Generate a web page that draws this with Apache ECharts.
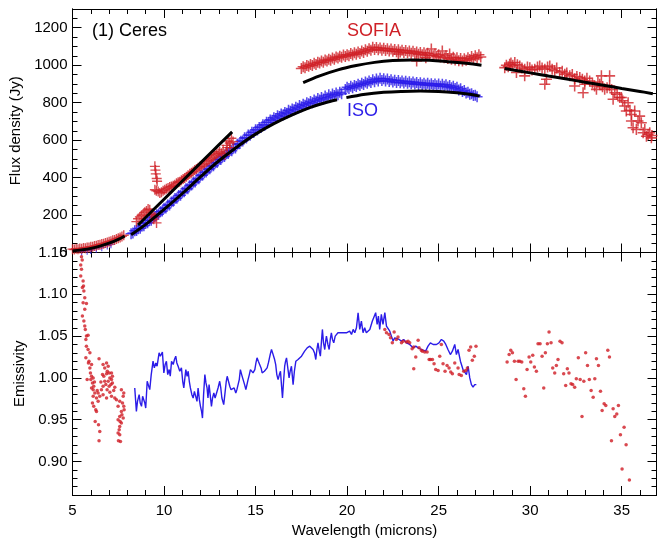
<!DOCTYPE html>
<html><head><meta charset="utf-8">
<script src="https://cdn.jsdelivr.net/npm/echarts@6/dist/echarts.min.js"></script>
<style>html,body{margin:0;padding:0;background:#fff}#c{width:658px;height:541px}</style>
</head><body><div id="c"></div>
<script>
// ---------- tick values ----------
const xMajor = [5,10,15,20,25,30,35];
const xMinor = [6,7,8,9,11,12,13,14,16,17,18,19,21,22,23,24,26,27,28,29,31,32,33,34,36];
const fluxMajor = [0,200,400,600,800,1000,1200];
const fluxMinor = [50,100,150,250,300,350,450,500,550,650,700,750,850,900,950,1050,1100,1150,1250];
const emisMajor = [0.90,0.95,1.00,1.05,1.10,1.15];
const emisMinor = [0.86,0.87,0.88,0.89,0.91,0.92,0.93,0.94,0.96,0.97,0.98,0.99,1.01,1.02,1.03,1.04,1.06,1.07,1.08,1.09,1.11,1.12,1.13,1.14];

// ---------- flux: SOFIA (red +) ----------
const sofiaFlux1 = [[5.0,18],[5.1,16],[5.2,20],[5.3,17],[5.4,22],[5.5,20],[5.6,24],[5.7,23],[5.8,27],[5.9,27],[6.0,31],[6.1,31],[6.2,35],[6.3,36],[6.4,40],[6.5,41],[6.6,45],[6.7,47],[6.8,51],[6.9,53],[7.0,58],[7.1,60],[7.2,65],[7.3,67],[7.4,72],[7.5,76],[7.6,80],[7.7,86],[7.8,92]];
const sofiaFlux2 = [[8.49,165],[8.58,180],[8.68,190],[8.77,198],[8.86,205],[8.95,215],[9.04,222],[9.13,232],[9.22,228],[9.31,200],[9.40,205],[9.44,178],[9.50,190],[9.59,158],[9.50,460],[9.53,440],[9.55,420],[9.60,395],[9.62,380],[9.50,335],[9.58,330],[9.68,326],[9.77,318],[9.86,322],[9.95,330],[10.04,335],[10.13,340],[10.22,345],[10.31,350],[10.40,352],[10.50,356],[10.59,362],[10.68,370],[10.77,375],[10.86,378],[10.95,386],[11.04,392],[11.13,398],[11.22,405],[11.31,412],[11.41,420],[11.50,426],[11.59,432],[11.68,440],[11.77,446],[11.86,452],[11.95,458],[12.04,462],[12.13,470],[12.22,476],[12.32,484],[12.41,490],[12.50,495],[12.59,503],[12.68,510],[12.77,518],[12.86,524],[12.95,530],[13.04,538],[13.14,530],[13.23,548],[13.32,520],[13.41,572],[13.50,595],[13.59,585],[13.68,610],[13.77,592],[13.45,560],[13.60,560]];
const sofiaFlux3 = [[17.5,982],[17.6,992],[17.7,986],[17.8,998],[17.9,994],[18.0,1004],[18.1,998],[18.2,1010],[18.3,1004],[18.4,1016],[18.5,1012],[18.6,1022],[18.7,1016],[18.8,1028],[18.9,1022],[19.0,1032],[19.1,1026],[19.2,1038],[19.3,1032],[19.4,1044],[19.5,1038],[19.6,1048],[19.7,1042],[19.8,1054],[19.9,1046],[20.0,1056],[20.1,1050],[20.2,1062],[20.3,1055],[20.4,1066],[20.5,1058],[20.6,1070],[20.7,1062],[20.8,1076],[20.9,1068],[21.0,1082],[21.1,1074],[21.2,1088],[21.3,1080],[21.4,1096],[21.5,1084],[21.6,1094],[21.7,1082],[21.8,1092],[21.9,1080],[22.0,1090],[22.1,1078],[22.2,1088],[22.3,1076],[22.4,1086],[22.5,1074],[22.6,1084],[22.7,1072],[22.8,1082],[22.9,1070],[23.0,1080],[23.1,1068],[23.2,1078],[23.3,1066],[23.4,1076],[23.5,1064],[23.6,1074],[23.7,1062],[23.8,1070],[23.9,1058],[24.0,1068],[24.1,1056],[24.2,1066],[24.3,1054],[24.4,1064],[24.5,1052],[24.6,1086],[24.7,1050],[24.8,1060],[24.9,1046],[25.0,1056],[25.1,1044],[25.2,1076],[25.3,1040],[25.4,1050],[25.5,1036],[25.6,1060],[25.7,1032],[25.8,1042],[25.9,1028],[26.0,1040],[26.1,1024],[26.2,1036],[26.3,1022],[26.4,1034],[26.5,1026],[26.6,1040],[26.7,1030],[26.8,1046],[26.9,1034],[27.0,1050],[27.1,1040],[27.2,1056],[27.3,1044],[23.8,1023],[24.3,1040],[22.8,1060]];
const sofiaFlux4 = [[28.61,987],[28.7,1000],[28.8,992],[28.88,1005],[28.95,1012],[29.05,1000],[29.16,1014],[29.25,961],[29.3,1002],[29.43,996],[29.55,985],[29.7,979],[29.7,943],[29.85,990],[29.98,987],[30.1,975],[30.25,979],[30.4,990],[30.52,996],[30.65,985],[30.8,979],[30.8,898],[30.89,925],[30.95,990],[31.07,996],[31.2,978],[31.34,970],[31.45,985],[31.61,961],[31.75,968],[31.89,952],[32.0,958],[32.16,943],[32.3,950],[32.43,928],[32.43,889],[32.55,940],[32.71,934],[32.85,925],[32.89,853],[32.98,916],[32.98,898],[33.1,930],[33.25,916],[33.4,905],[33.52,889],[33.62,871],[33.7,910],[33.8,898],[33.89,943],[33.95,885],[34.07,871],[34.2,880],[34.34,889],[34.34,943],[34.45,870],[34.53,818],[34.62,853],[34.75,845],[34.89,827],[34.98,827],[35.05,810],[35.16,782],[35.25,755],[35.35,800],[35.45,760],[35.53,737],[35.53,702],[35.62,666],[35.71,755],[35.80,657],[35.89,702],[35.98,728],[36.07,693],[36.17,639],[36.26,657],[36.35,621],[36.44,630],[36.53,639],[36.62,612],[36.65,625]];

// ---------- flux: ISO (blue +) ----------
const isoFlux1 = [[5.5,6],[5.8,10],[6.0,14],[6.3,20],[6.6,28],[6.9,38],[7.1,44]];
const isoFlux2 = [[8.2,100],[8.3,104],[8.4,116],[8.5,118],[8.6,127],[8.7,130],[8.8,141],[8.9,143],[9.0,156],[9.1,159],[9.2,171],[9.3,172],[9.4,186],[9.5,192],[9.6,202],[9.7,204],[9.8,218],[9.9,221],[10.0,236],[10.1,238],[10.2,253],[10.3,254],[10.4,270],[10.5,273],[10.6,288],[10.7,290],[10.8,304],[10.9,306],[11.0,322],[11.1,324],[11.2,340],[11.3,341],[11.4,357],[11.5,360],[11.6,375],[11.7,377],[11.8,392],[11.9,394],[12.0,411],[12.1,413],[12.2,427],[12.3,430],[12.4,445],[12.5,447],[12.6,462],[12.7,463],[12.8,479],[12.9,480],[13.0,496],[13.1,497],[13.2,511],[13.3,512],[13.4,528],[13.5,528],[13.6,544],[13.7,543],[13.8,559],[13.9,558],[14.0,578],[14.1,580],[14.2,594],[14.3,595],[14.4,612],[14.5,611],[14.6,627],[14.7,626],[14.8,642],[14.9,641],[15.0,655],[15.1,654],[15.2,668],[15.3,668],[15.4,682],[15.5,680],[15.6,695],[15.7,694],[15.8,708],[15.9,706],[16.0,720],[16.1,716],[16.2,730],[16.3,726],[16.4,740],[16.5,734],[16.6,748],[16.7,744],[16.8,760],[16.9,754],[17.0,766],[17.1,762],[17.2,775],[17.3,770],[17.4,785],[17.5,778],[17.6,792],[17.7,786],[17.8,800],[17.9,794],[18.0,806],[18.1,800],[18.2,814],[18.3,808],[18.4,822],[18.5,814],[18.6,828],[18.7,820],[18.8,836],[18.9,826],[19.0,842],[19.1,832],[19.2,846],[19.3,838],[19.4,852],[19.5,842],[19.6,856],[19.7,848]];
const isoFlux3 = [[19.9,870],[20.0,882],[20.1,876],[20.2,888],[20.3,880],[20.4,892],[20.5,886],[20.6,898],[20.7,892],[20.8,904],[20.9,897],[21.0,910],[21.1,903],[21.2,916],[21.3,908],[21.4,922],[21.5,912],[21.6,926],[21.7,915],[21.8,930],[21.9,918],[22.0,928],[22.1,916],[22.2,926],[22.3,913],[22.4,922],[22.5,910],[22.6,920],[22.7,908],[22.8,918],[22.9,906],[23.0,916],[23.1,905],[23.2,914],[23.3,903],[23.4,912],[23.5,901],[23.6,910],[23.7,899],[23.8,908],[23.9,897],[24.0,906],[24.1,896],[24.2,904],[24.3,894],[24.4,903],[24.5,893],[24.6,901],[24.7,891],[24.8,900],[24.9,890],[25.0,899],[25.1,888],[25.2,898],[25.3,887],[25.4,896],[25.5,884],[25.6,892],[25.7,880],[25.8,887],[25.9,875],[26.0,882],[26.1,868],[26.2,874],[26.3,860],[26.4,865],[26.5,852],[26.6,856],[26.7,845],[26.8,848],[26.9,838],[27.0,840],[27.1,832]];

// ---------- flux: thermal models (black) ----------
const model1 = [[5.0,8],[5.5,14],[6.0,22],[6.5,34],[7.0,50],[7.5,70],[7.85,88]];
const modelSofia2 = [[8.58,147],[9.5,236],[10.5,333],[11.5,430],[12.5,527],[13.72,644]];
const modelIso2 = [[8.2,95],[9,150],[10,230],[11,315],[12,405],[13,490],[14,565],[15,632],[16,688],[17,735],[18,775],[19,805],[19.45,815]];
const modelIso3 = [[19.96,827],[21,845],[22,855],[23,860],[24,862],[25,860],[26,853],[26.7,845],[27.24,835]];
const modelSofia3 = [[17.6,907],[18.5,943],[19.5,975],[20.5,998],[21.5,1015],[22.5,1025],[23.5,1028],[24.5,1026],[25.5,1019],[26.5,1010],[27.34,1000]];
const modelSofia4 = [[28.6,982],[30,959],[31,942],[32,926],[33,909],[34,893],[35,876],[36,860],[36.7,848]];

// ---------- emissivity ----------
const sofiaEmis1 = [[5.49,1.145],[5.53,1.141],[5.45,1.135],[5.49,1.130],[5.45,1.122],[5.58,1.116],[5.54,1.108],[5.62,1.104],[5.67,1.096],[5.58,1.090],[5.76,1.089],[5.67,1.082],[5.54,1.074],[5.62,1.068],[5.67,1.062],[5.76,1.050],[5.85,1.051],[5.73,1.046],[5.76,1.038],[5.85,1.034],[5.73,1.024],[5.95,1.030],[5.87,1.018],[6.04,1.016],[5.95,1.012],[5.98,1.006],[6.04,1.002],[6.13,1.000],[5.80,0.998],[6.09,0.994],[6.16,0.990],[6.04,0.988],[6.13,0.986],[6.22,0.982],[6.13,0.978],[6.31,0.976],[6.09,0.970],[6.16,0.966],[6.27,0.962],[6.40,0.972],[6.31,0.960],[6.24,0.948],[6.42,0.944],[6.49,0.936],[6.45,0.925],[6.45,1.023],[6.67,1.016],[6.86,1.018],[6.76,1.012],[6.95,1.014],[6.64,1.004],[6.71,1.002],[6.86,1.005],[7.00,1.006],[7.13,1.006],[7.18,1.002],[7.04,1.000],[6.76,0.996],[6.95,0.996],[7.13,0.998],[6.67,0.990],[6.58,0.986],[6.82,0.992],[7.00,0.990],[7.18,0.994],[7.31,0.989],[6.89,0.986],[7.04,0.983],[6.67,0.980],[7.13,0.978],[6.86,0.976],[7.31,0.976],[6.49,0.978],[6.40,0.982],[7.40,0.974],[7.67,0.986],[7.77,0.978],[7.80,0.982],[7.58,0.972],[7.73,0.970],[7.49,0.966],[7.67,0.960],[7.58,0.954],[7.77,0.952],[7.49,0.950],[7.67,0.946],[7.58,0.942],[7.55,0.938],[7.49,0.934],[7.58,0.932],[7.62,0.924],[7.51,0.925],[7.80,0.966],[7.82,0.962],[5.60,1.110],[5.70,1.058],[5.90,1.020],[6.00,0.998],[6.20,0.995],[6.35,0.985],[6.55,0.995],[6.90,1.008],[7.10,0.992],[7.25,0.985],[7.60,0.948],[7.70,0.956]];
const sofiaEmis2 = [[22.06,1.058],[22.15,1.054],[22.29,1.052],[22.57,1.055],[22.37,1.048],[22.47,1.042],[22.78,1.049],[22.69,1.046],[22.97,1.042],[23.06,1.044],[23.24,1.043],[23.33,1.044],[23.42,1.042],[23.55,1.035],[23.64,1.037],[23.75,1.025],[23.88,1.045],[23.93,1.036],[24.06,1.033],[24.11,1.032],[24.24,1.031],[24.37,1.031],[23.64,1.011],[24.48,1.022],[24.55,1.022],[24.66,1.022],[24.75,1.017],[24.84,1.010],[24.97,1.009],[25.06,1.026],[25.15,1.040],[25.24,1.017],[25.35,1.008],[25.46,1.015],[25.57,1.012],[25.66,1.007],[25.75,1.005],[25.88,1.018],[26.06,1.012],[26.12,1.004],[26.24,1.003],[26.37,1.008],[26.48,1.009],[26.57,1.012],[26.66,1.033],[26.75,1.037],[26.84,1.021],[26.95,1.026],[27.04,1.038]];
const sofiaEmis3 = [[28.74,1.019],[28.85,1.028],[28.94,1.033],[29.03,1.030],[29.14,1.020],[29.23,0.998],[29.34,1.020],[29.43,1.020],[29.54,1.019],[29.65,0.987],[29.74,0.978],[29.83,1.010],[29.94,1.025],[30.03,1.019],[30.14,1.027],[30.23,1.013],[30.34,1.008],[30.43,1.041],[30.54,1.041],[30.65,1.026],[30.74,0.988],[30.83,1.030],[30.94,1.041],[31.03,1.055],[31.14,1.042],[31.23,1.012],[31.34,1.006],[31.43,1.015],[31.52,1.022],[31.63,1.044],[31.74,1.042],[31.83,1.005],[31.94,0.991],[32.03,1.011],[32.12,1.006],[32.23,0.993],[32.32,0.992],[32.43,0.989],[32.52,0.999],[32.63,1.024],[32.73,0.998],[32.83,0.954],[32.93,0.996],[33.03,1.030],[33.13,1.015],[33.23,0.998],[33.33,0.985],[33.44,0.977],[33.53,0.999],[33.62,1.023],[33.73,1.015],[33.84,0.984],[33.93,0.961],[34.04,0.969],[34.13,0.967],[34.24,1.033],[34.33,1.025],[34.44,0.925],[34.53,0.963],[34.62,0.954],[34.73,0.957],[34.82,0.967],[34.93,0.932],[35.02,0.891],[35.13,0.941],[35.24,0.920],[35.42,0.878]];
const isoEmis = [[8.40,0.988],[8.49,0.960],[8.55,0.972],[8.64,0.980],[8.70,0.970],[8.77,0.966],[8.83,0.978],[8.89,0.978],[8.95,0.970],[9.00,0.964],[9.08,0.996],[9.15,0.998],[9.22,0.986],[9.30,1.004],[9.40,1.020],[9.47,1.012],[9.55,1.018],[9.62,1.014],[9.73,1.030],[9.80,1.026],[9.91,1.031],[9.99,1.006],[10.06,1.016],[10.13,1.020],[10.20,1.004],[10.28,1.010],[10.34,1.002],[10.41,1.020],[10.50,1.016],[10.57,1.022],[10.64,1.026],[10.70,1.018],[10.77,1.014],[10.86,1.008],[10.95,1.012],[11.02,0.996],[11.08,0.988],[11.14,1.000],[11.19,1.010],[11.26,1.002],[11.32,1.008],[11.38,0.996],[11.44,0.988],[11.52,0.980],[11.59,0.976],[11.66,0.984],[11.73,0.978],[11.80,0.972],[11.86,0.988],[11.93,0.974],[11.99,0.966],[12.05,0.960],[12.10,0.952],[12.16,0.980],[12.23,1.004],[12.29,0.994],[12.35,0.988],[12.40,0.976],[12.46,0.992],[12.52,0.980],[12.59,0.966],[12.65,0.976],[12.72,0.982],[12.79,0.976],[12.86,0.978],[12.95,0.988],[13.04,0.996],[13.10,0.988],[13.16,0.976],[13.26,0.968],[13.34,0.984],[13.40,0.996],[13.45,1.002],[13.52,0.996],[13.59,0.990],[13.66,0.986],[13.74,0.984],[13.83,0.988],[13.92,0.982],[13.98,0.986],[14.05,0.988],[14.11,0.998],[14.17,1.010],[14.24,1.004],[14.32,0.998],[14.40,0.992],[14.47,0.986],[14.53,0.992],[14.59,0.998],[14.66,1.004],[14.72,1.010],[14.77,1.012],[14.86,1.006],[14.96,1.010],[15.02,1.018],[15.08,1.024],[15.15,1.020],[15.23,1.018],[15.30,1.012],[15.36,1.006],[15.41,1.004],[15.48,1.008],[15.56,1.006],[15.63,1.012],[15.70,1.018],[15.74,1.022],[15.80,1.028],[15.87,1.034],[15.93,1.030],[15.99,1.028],[16.04,1.022],[16.10,1.016],[16.16,1.004],[16.23,0.998],[16.30,1.004],[16.36,1.008],[16.42,0.990],[16.47,0.976],[16.53,0.996],[16.59,1.014],[16.64,1.020],[16.69,1.024],[16.76,1.012],[16.83,1.000],[16.89,1.008],[16.96,1.014],[17.00,1.004],[17.05,0.992],[17.12,1.008],[17.20,1.020],[17.26,1.018],[17.32,1.022],[17.40,1.022],[17.51,1.026],[17.60,1.028],[17.68,1.032],[17.74,1.034],[17.82,1.036],[17.90,1.034],[17.96,1.038],[18.05,1.036],[18.14,1.034],[18.22,1.030],[18.29,1.022],[18.35,1.034],[18.41,1.042],[18.48,1.032],[18.54,1.026],[18.60,1.044],[18.65,1.058],[18.71,1.042],[18.78,1.034],[18.83,1.044],[18.87,1.050],[18.95,1.040],[19.02,1.034],[19.08,1.046],[19.14,1.054],[19.20,1.046],[19.27,1.042],[19.35,1.050],[19.42,1.052],[19.50,1.054],[19.60,1.054],[19.80,1.054],[19.96,1.054],[20.05,1.054],[20.14,1.056],[20.24,1.052],[20.33,1.058],[20.42,1.054],[20.51,1.060],[20.60,1.078],[20.69,1.058],[20.78,1.068],[20.87,1.054],[20.96,1.060],[21.05,1.054],[21.14,1.056],[21.24,1.058],[21.38,1.068],[21.47,1.070],[21.56,1.078],[21.64,1.064],[21.71,1.074],[21.78,1.058],[21.87,1.076],[21.96,1.064],[22.06,1.078],[22.15,1.062],[22.24,1.064],[22.33,1.056],[22.42,1.050],[22.51,1.044],[22.60,1.048],[22.69,1.050],[22.84,1.046],[22.97,1.044],[23.09,1.046],[23.24,1.042],[23.42,1.040],[23.60,1.036],[23.75,1.038],[23.88,1.036],[24.06,1.034],[24.29,1.032],[24.42,1.038],[24.55,1.042],[24.70,1.040],[24.88,1.040],[25.02,1.042],[25.15,1.046],[25.28,1.044],[25.39,1.040],[25.51,1.034],[25.64,1.028],[25.75,1.032],[25.88,1.040],[25.97,1.028],[26.06,1.034],[26.19,1.020],[26.33,1.010],[26.42,1.012],[26.52,1.004],[26.61,1.014],[26.70,1.000],[26.79,0.992],[26.88,0.989],[26.97,0.992],[27.06,0.992]];

// ---------- styling ----------
const RED = '#cf2027', BLUE = '#2b1ce8', FONT = 'Liberation Sans, Arial, Helvetica, sans-serif';
const PLUS = 'path://M4.3,0h1.4v4.3h4.3v1.4h-4.3v4.3h-1.4v-4.3h-4.3v-1.4h4.3z';
const XMIN = 5, XMAX = 36.9;

function xAx(grid, pos, vals, len, labels, name) {
  const a = {
    type: 'value', gridIndex: grid, position: pos, min: XMIN, max: XMAX,
    axisLine: { show: true, onZero: false, lineStyle: { color: '#000', width: 1 } },
    axisTick: { show: true, inside: true, length: len, customValues: vals, lineStyle: { color: '#000', width: 1 } },
    axisLabel: labels ? { show: true, customValues: xMajor, margin: 8, color: '#000', fontSize: 15, fontFamily: FONT } : { show: false },
    splitLine: { show: false }
  };
  if (name) {
    Object.assign(a, { name: name, nameLocation: 'middle', nameGap: 28,
      nameTextStyle: { color: '#000', fontSize: 15, fontFamily: FONT } });
  }
  return a;
}
function yAx(grid, pos, min, max, vals, len, labelVals, fmt, name, gap) {
  const a = {
    type: 'value', gridIndex: grid, position: pos, min: min, max: max,
    axisLine: { show: true, onZero: false, lineStyle: { color: '#000', width: 1 } },
    axisTick: { show: true, inside: true, length: len, customValues: vals, lineStyle: { color: '#000', width: 1 } },
    axisLabel: labelVals ? { show: true, customValues: labelVals, formatter: fmt, margin: 5, color: '#000', fontSize: 15, fontFamily: FONT } : { show: false },
    splitLine: { show: false }
  };
  if (name) {
    Object.assign(a, { name: name, nameLocation: 'middle', nameGap: gap, nameRotate: 90,
      nameTextStyle: { color: '#000', fontSize: 15, fontFamily: FONT } });
  }
  return a;
}

const chart = echarts.init(document.getElementById('c'), null, { renderer: 'canvas' });
const fluxFmt = v => String(Math.round(v));
const emisFmt = v => v.toFixed(2);

const xAxes = [
  xAx(0, 'bottom', xMajor, 9, false),
  xAx(1, 'bottom', xMajor, 9, true, 'Wavelength (microns)'),
  xAx(0, 'bottom', xMinor, 5, false),
  xAx(0, 'top', xMajor, 9, false),
  xAx(0, 'top', xMinor, 5, false),
  xAx(1, 'bottom', xMinor, 5, false),
  xAx(1, 'top', xMajor, 9, false),
  xAx(1, 'top', xMinor, 5, false)
];
const yAxes = [
  yAx(0, 'left', 0, 1300, fluxMajor, 9, fluxMajor, fluxFmt, 'Flux density (Jy)', 42),
  yAx(1, 'left', 0.86, 1.15, emisMajor, 9, emisMajor, emisFmt, 'Emissivity', 40),
  yAx(0, 'left', 0, 1300, fluxMinor, 5, null),
  yAx(0, 'right', 0, 1300, fluxMajor, 9, null),
  yAx(0, 'right', 0, 1300, fluxMinor, 5, null),
  yAx(1, 'left', 0.86, 1.15, emisMinor, 5, null),
  yAx(1, 'right', 0.86, 1.15, emisMajor, 9, null),
  yAx(1, 'right', 0.86, 1.15, emisMinor, 5, null)
];

function plus(data, color, size, z) {
  return { type: 'scatter', xAxisIndex: 0, yAxisIndex: 0, data: data, symbol: PLUS, symbolSize: size,
    itemStyle: { color: color }, z: z, silent: true, animation: false };
}
function model(data) {
  return { type: 'line', xAxisIndex: 0, yAxisIndex: 0, data: data, smooth: 0.4, showSymbol: false, symbol: 'none',
    lineStyle: { color: '#000', width: 3 }, z: 5, silent: true, animation: false };
}
function dots(data) {
  return { type: 'scatter', xAxisIndex: 1, yAxisIndex: 1, data: data, symbol: 'circle', symbolSize: 3.5,
    itemStyle: { color: '#d01c24' }, z: 4, silent: true, animation: false };
}

chart.setOption({
  animation: false,
  backgroundColor: '#fff',
  grid: [
    { left: 72.5, right: 1.5, top: 9, height: 243.5, containLabel: false },
    { left: 72.5, right: 1.5, top: 252.5, height: 242.5, containLabel: false }
  ],
  xAxis: xAxes,
  yAxis: yAxes,
  series: [
    plus(isoFlux1, BLUE, 8, 2), plus(isoFlux2, BLUE, 11, 2), plus(isoFlux3, BLUE, 11, 2),
    plus(sofiaFlux1, RED, 10, 3), plus(sofiaFlux2, RED, 10, 3), plus(sofiaFlux3, RED, 11, 3), plus(sofiaFlux4, RED, 11, 3),
    model(model1), model(modelSofia2), model(modelIso2), model(modelIso3), model(modelSofia3), model(modelSofia4),
    { type: 'line', xAxisIndex: 1, yAxisIndex: 1, data: isoEmis, showSymbol: false, symbol: 'none',
      lineStyle: { color: BLUE, width: 1.4 }, z: 3, silent: true, animation: false },
    dots(sofiaEmis1), dots(sofiaEmis2), dots(sofiaEmis3)
  ],
  graphic: [
    { type: 'text', left: 92, top: 22, style: { text: '(1) Ceres', fill: '#000', font: '18px ' + FONT } },
    { type: 'text', left: 347, top: 22, style: { text: 'SOFIA', fill: RED, font: '18px ' + FONT } },
    { type: 'text', left: 347, top: 102, style: { text: 'ISO', fill: BLUE, font: '18px ' + FONT } }
  ]
});
</script>
</body></html>
